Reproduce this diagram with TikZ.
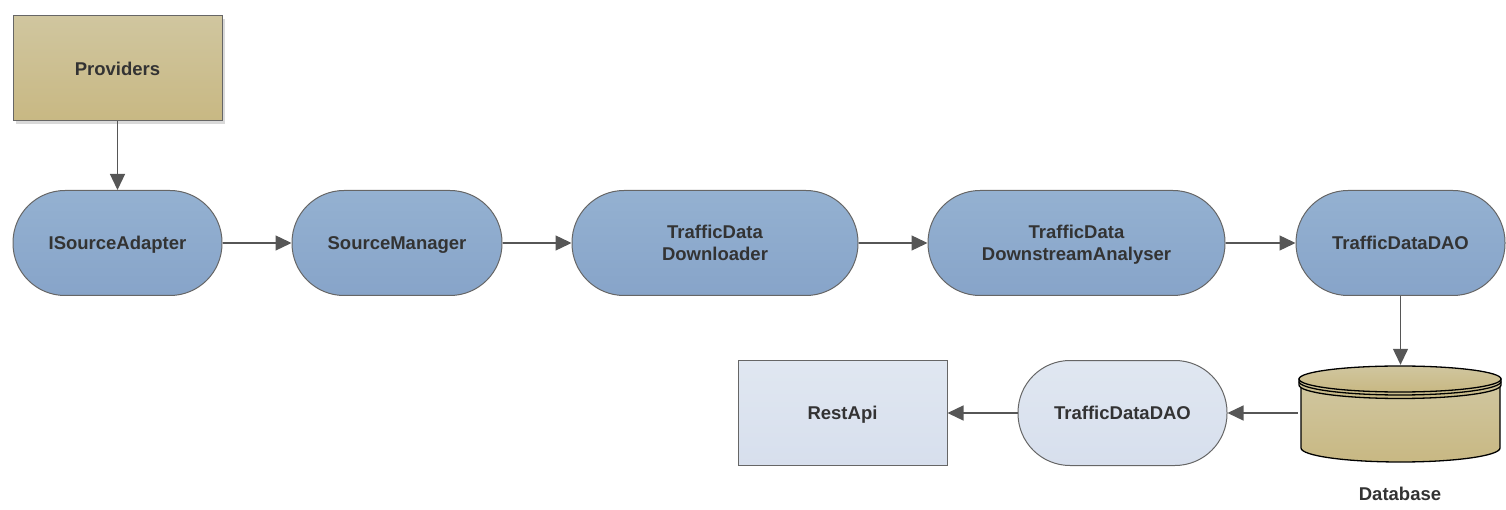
\documentclass[tikz,border=0pt]{standalone}
\usepackage{fontspec}
\setmainfont{Liberation Sans}
\usetikzlibrary{arrows.meta,shadows}
\definecolor{txt}{HTML}{333333}
\definecolor{edge}{HTML}{666666}
\definecolor{arr}{HTML}{565656}
\definecolor{blueT}{HTML}{94B1D1}
\definecolor{blueB}{HTML}{87A4C9}
\definecolor{lightT}{HTML}{E0E7F1}
\definecolor{lightB}{HTML}{D7DFED}
\definecolor{tanT}{HTML}{D0C69F}
\definecolor{tanB}{HTML}{C8B883}
\tikzset{
  lbl/.style={font=\fontsize{18.5}{22}\selectfont\bfseries, text=txt, align=center},
  one/.style={text height=13.3pt, text depth=0pt},
  stad/.style={lbl, draw=edge, line width=1pt, rounded corners=52pt, minimum height=105pt, inner sep=0pt},
  bluestad/.style={stad, top color=blueT, bottom color=blueB},
  lightstad/.style={stad, top color=lightT, bottom color=lightB},
  box/.style={lbl, one, draw=edge, line width=1pt, minimum width=209pt, minimum height=105pt, inner sep=0pt},
  conn/.style={draw=arr, line width=1.3pt, -{Triangle[length=16pt,width=15pt]}},
  cyl/.style={draw=black, line width=1.3pt, top color=tanT, bottom color=tanB}
}
\begin{document}
\begin{tikzpicture}[x=1pt,y=-1pt]
\useasboundingbox (0,0) rectangle (1506,510);
% nodes
\node[box, top color=tanT, bottom color=tanB,
  drop shadow={opacity=0.3, shadow xshift=3pt, shadow yshift=-3pt}] (prov) at (117.5,68.5) {Providers};
\node[bluestad, one, minimum width=209pt] (isa) at (117.5,243) {ISourceAdapter};
\node[bluestad, one, minimum width=210pt] (sm) at (397,243) {SourceManager};
\node[bluestad, minimum width=286pt] (dl) at (715,243) {TrafficData\\Downloader};
\node[bluestad, minimum width=297pt, text depth=0pt] (da) at (1076.5,243) {TrafficData\\DownstreamAnalyser};
\node[bluestad, one, minimum width=209pt] (dao) at (1400.5,243) {TrafficDataDAO};
\node[lightstad, one, minimum width=209pt] (dao2) at (1122.5,413) {TrafficDataDAO};
\node[box, top color=lightT, bottom color=lightB] (api) at (842.5,413) {RestApi};
% database cylinder
\node[minimum width=205pt, minimum height=96pt, inner sep=0pt] (db) at (1400.5,413) {};
\path[cyl] (1301,384) -- (1301,448) arc[start angle=180, end angle=0, x radius=99.5, y radius=14] -- (1500,384) -- cycle;
\path[cyl] (1299,379) -- (1299,385) arc[start angle=180, end angle=0, x radius=101, y radius=13.5] -- (1501,379) -- cycle;
\draw[black, line width=1.3pt] (1299,381.5) arc[start angle=180, end angle=0, x radius=101, y radius=13.5];
\path[cyl] (1400,379) ellipse[x radius=101, y radius=13];
\node[lbl, one] (dblbl) at (1400,494) {Database};
% connectors
\draw[conn] (prov.south) -- (isa.north);
\draw[conn] (isa.east) -- (sm.west);
\draw[conn] (sm.east) -- (dl.west);
\draw[conn] (dl.east) -- (da.west);
\draw[conn] (da.east) -- (dao.west);
\draw[conn] (dao.south) -- (db.north);
\draw[conn] (db.west) -- (dao2.east);
\draw[conn] (dao2.west) -- (api.east);
\end{tikzpicture}
\end{document}
